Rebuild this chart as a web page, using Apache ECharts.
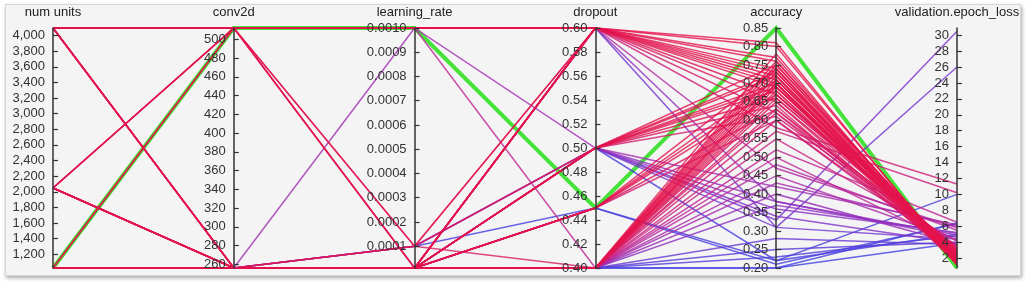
<!DOCTYPE html>
<html>
<head>
<meta charset="utf-8">
<script src="https://cdn.jsdelivr.net/npm/echarts@6/dist/echarts.min.js"></script>
<style>
    html, body { margin: 0; padding: 0; background: #fff; }
    #card {
        position: absolute; left: 5px; top: 4px; width: 1014px; height: 270px;
        background: #f4f4f4; border: 1px solid #d6d6d6;
        box-shadow: 1px 2px 4px rgba(0, 0, 0, 0.35);
    }
    #chart { position: absolute; left: 0; top: 0; width: 1026px; height: 286px; }
</style>
</head>
<body>
<div id="card"></div>
<div id="chart"></div>
<script>
// axis names
const dimNames = ["num units", "conv2d", "learning_rate", "dropout", "accuracy", "validation.epoch_loss"];

// one entry per trial (grouped by dropout: 0.6 / 0.5 / 0.45 / 0.4)
const numUnits = [
    4096, 1024, 1024, 2048, 2048, 1024, 4096, 1024, 2048, 4096, 1024, 4096, 1024, 4096, 1024, 4096, 1024,
    2048, 4096, 1024, 2048, 1024, 4096, 2048, 1024, 2048, 1024, 1024, 1024, 2048, 1024, 1024, 1024,
    1024, 1024, 2048, 1024, 2048, 4096, 1024, 1024,
    1024, 1024, 2048, 1024, 4096, 1024, 1024, 2048, 1024, 1024, 1024, 4096, 1024, 1024, 1024, 1024,
    1024, 1024, 1024, 1024, 4096, 1024, 1024, 1024, 1024, 1024, 1024, 1024, 1024, 1024, 1024
];
const conv2d = [
    512, 512, 256, 256, 512, 256, 512, 256, 256, 512, 256, 256, 256, 512, 256, 512, 256,
    512, 256, 256, 256, 512, 256, 512, 256, 256, 256, 256, 256, 256, 256, 256, 256,
    256, 256, 256, 256, 512, 256, 256, 256,
    256, 256, 256, 256, 256, 256, 256, 256, 256, 256, 256, 256, 256, 256, 256, 256,
    256, 256, 256, 256, 512, 256, 256, 256, 256, 256, 256, 256, 256, 256, 256
];
const learningRate = [
    0.001, 0.001, 0.00001, 0.00001, 0.0001, 0.0001, 0.001, 0.00001, 0.00001, 0.001, 0.00001, 0.00001, 0.00001, 0.001, 0.00001, 0.001, 0.00001,
    0.00001, 0.00001, 0.00001, 0.00001, 0.00001, 0.00001, 0.0001, 0.00001, 0.00001, 0.001, 0.0001, 0.00001, 0.0001, 0.00001, 0.00001, 0.00001,
    0.00001, 0.00001, 0.00001, 0.00001, 0.00001, 0.00001, 0.0001, 0.00001,
    0.00001, 0.00001, 0.00001, 0.00001, 0.00001, 0.00001, 0.00001, 0.00001, 0.00001, 0.00001, 0.00001, 0.00001, 0.00001, 0.00001, 0.0001, 0.00001,
    0.00001, 0.00001, 0.00001, 0.00001, 0.001, 0.00001, 0.00001, 0.00001, 0.00001, 0.00001, 0.00001, 0.00001, 0.00001, 0.00001, 0.00001
];
const dropout = [
    0.6, 0.6, 0.6, 0.6, 0.6, 0.6, 0.6, 0.6, 0.6, 0.6, 0.6, 0.6, 0.6, 0.6, 0.6, 0.6, 0.6,
    0.5, 0.5, 0.5, 0.5, 0.5, 0.5, 0.5, 0.5, 0.5, 0.5, 0.5, 0.5, 0.5, 0.5, 0.5, 0.5,
    0.45, 0.45, 0.45, 0.45, 0.45, 0.45, 0.45, 0.45,
    0.4, 0.4, 0.4, 0.4, 0.4, 0.4, 0.4, 0.4, 0.4, 0.4, 0.4, 0.4, 0.4, 0.4, 0.4, 0.4,
    0.4, 0.4, 0.4, 0.4, 0.4, 0.4, 0.4, 0.4, 0.4, 0.4, 0.4, 0.4, 0.4, 0.4, 0.4
];
const accuracy = [
    0.81, 0.80, 0.77, 0.76, 0.74, 0.73, 0.72, 0.71, 0.70, 0.69, 0.67, 0.65, 0.62, 0.58, 0.47, 0.38, 0.31,
    0.75, 0.73, 0.72, 0.70, 0.69, 0.68, 0.66, 0.64, 0.61, 0.42, 0.38, 0.36, 0.34, 0.33, 0.31, 0.22,
    0.74, 0.71, 0.69, 0.67, 0.63, 0.60, 0.22, 0.21,
    0.78, 0.76, 0.75, 0.74, 0.73, 0.72, 0.71, 0.70, 0.70, 0.69, 0.68, 0.67, 0.66, 0.65, 0.63, 0.62,
    0.60, 0.57, 0.55, 0.52, 0.50, 0.48, 0.45, 0.43, 0.40, 0.37, 0.28, 0.25, 0.23, 0.20, 0.20
];
const valLoss = [
    1.2, 1.5, 1.6, 1.9, 2.0, 1.8, 2.2, 2.4, 1.4, 2.6, 2.8, 3.0, 2.1, 11.3, 5.8, 4.9, 26.0,
    1.7, 2.1, 1.3, 2.5, 1.9, 2.3, 2.9, 1.6, 3.3, 6.2, 4.6, 5.2, 3.9, 30.5, 4.4, 5.0,
    1.5, 2.2, 2.0, 2.7, 3.1, 2.4, 10.0, 6.3,
    1.1, 1.8, 2.3, 1.4, 2.0, 1.7, 2.6, 1.2, 2.2, 2.9, 1.5, 2.5, 3.2, 1.9, 2.4, 3.5,
    2.8, 10.2, 4.1, 6.5, 3.6, 5.5, 4.3, 6.0, 3.8, 5.1, 3.7, 4.0, 4.8, 6.4, 3.9
];

// highlighted best trial
const bestTrial = [1024, 512, 0.001, 0.45, 0.85, 0.75];

// draw low accuracy first so the red lines sit on top
const rows = accuracy
    .map((acc, i) => [numUnits[i], conv2d[i], learningRate[i], dropout[i], acc, valLoss[i]])
    .sort((a, b) => a[4] - b[4]);

let chart = echarts.init(document.getElementById("chart"));

const axisCommon = {
    nameLocation: "end",
    nameGap: 9,
    nameTextStyle: { color: "#222", fontSize: 13, fontFamily: "Liberation Sans" },
    axisLine: { lineStyle: { color: "#333", width: 1.5 } },
    axisTick: { inside: true, length: 5, lineStyle: { color: "#333", width: 1.2 } },
    // parallel axes put labels on the right; push them to the left side
    axisLabel: { color: "#333", fontSize: 13, fontFamily: "Liberation Sans", margin: -8, align: "right" },
    splitLine: { show: false }
};

const mkAxis = (dim, min, max, step, fmt, showMin, showMax) => {
    return Object.assign({}, axisCommon, {
        dim: dim,
        name: dimNames[dim],
        type: "value",
        min: min,
        max: max,
        splitNumber: Math.round((max - min) / step),
        minInterval: step,
        maxInterval: step,
        axisLabel: Object.assign({}, axisCommon.axisLabel, {
            formatter: fmt,
            showMinLabel: showMin,
            showMaxLabel: showMax
        })
    });
};

let option = {
    animation: false,
    parallel: {
        left: 53,
        right: 69,
        top: 28,
        bottom: 18,
        layout: "horizontal"
    },
    parallelAxis: [
        mkAxis(0, 1024, 4096, 200, v => v.toLocaleString("en-US"), false, false),
        mkAxis(1, 256, 512, 20, v => String(Math.round(v)), false, false),
        mkAxis(2, 0.00001, 0.001, 0.0001, v => v.toFixed(4), false, true),
        mkAxis(3, 0.4, 0.6, 0.02, v => v.toFixed(2), true, true),
        mkAxis(4, 0.2, 0.85, 0.05, v => v.toFixed(2), true, true),
        mkAxis(5, 0.75, 30.9, 2, v => String(Math.round(v)), false, false)
    ],
    visualMap: {
        show: false,
        type: "continuous",
        dimension: 4,
        seriesIndex: 1,
        min: 0.2,
        max: 0.85,
        inRange: {
            color: ["#3f3fe2", "#8a2fc4", "#c4218c", "#e2144e", "#e8104a"]
        }
    },
    series: [
        {
            name: "best",
            type: "parallel",
            data: [bestTrial],
            lineStyle: { color: "#45e23a", width: 4, opacity: 1 }
        },
        {
            name: "trials",
            type: "parallel",
            data: rows,
            lineStyle: { width: 1.5, opacity: 0.8 }
        }
    ]
};

chart.setOption(option);
</script>
</body>
</html>
